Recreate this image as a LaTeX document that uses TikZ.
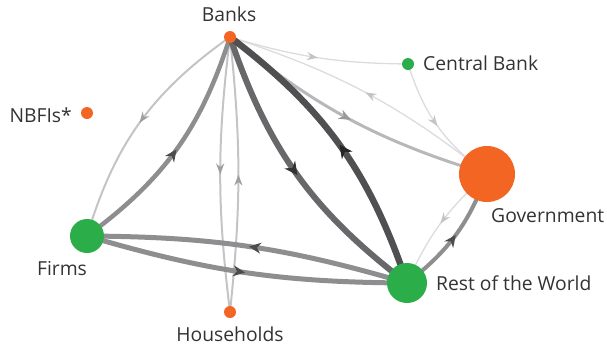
\documentclass[tikz,border=0pt]{standalone}
\usepackage{fontspec}
\setmainfont{Open Sans}
\usetikzlibrary{arrows.meta,decorations.markings,backgrounds,positioning}
\definecolor{sectororange}{HTML}{F26522}
\definecolor{sectorgreen}{HTML}{2BAE4A}
\definecolor{labeltext}{HTML}{333333}
\definecolor{flowfaint}{HTML}{DCDCDE}
\definecolor{flowlight}{HTML}{C4C4C6}
\definecolor{flowmid}{HTML}{B8B8BA}
\definecolor{flowgrey}{HTML}{8E8E91}
\definecolor{flowdark}{HTML}{68686B}
\definecolor{flowdarker}{HTML}{505053}
\tikzset{midarrow/.style 2 args={postaction={decorate},
  decoration={markings, mark=at position 0.5 with {\arrow[#1]{Stealth[#2]}}}}}
\tikzstyle{sector} = [circle, inner sep=0pt, draw=none]
\tikzstyle{lab} = [text=labeltext, font=\fontsize{19.3}{22}\selectfont, inner sep=0pt]
\tikzstyle{faint} = [line width=1.3pt, draw=flowfaint, midarrow={flowlight}{length=11pt, width=8pt}]
\tikzstyle{light} = [line width=2pt, draw=flowlight, midarrow={gray!75}{length=11pt, width=8pt}]
\tikzstyle{medium} = [line width=3pt, draw=flowmid, midarrow={gray!80}{length=12pt, width=10pt}]
\tikzstyle{heavy} = [line width=4.5pt, draw=flowgrey, midarrow={black!70}{length=12pt, width=11pt}]
\tikzstyle{heavier} = [line width=6pt, draw=flowdark, midarrow={black!80}{length=13pt, width=13pt}]
\tikzstyle{heaviest} = [line width=6.5pt, draw=flowdarker, midarrow={black!85}{length=13pt, width=13pt}]

\begin{document}
\begin{tikzpicture}[x=1pt, y=-1pt]
	\useasboundingbox (0,0) rectangle (607,349);
	% sectors
	\node [sector, fill=sectororange, minimum size=12pt] (banks) at (230, 37) {};
	\node [sector, fill=sectorgreen, minimum size=12pt] (cb) at (408, 64) {};
	\node [sector, fill=sectororange, minimum size=12pt] (nbfi) at (87, 113) {};
	\node [sector, fill=sectororange, minimum size=56pt] (gov) at (487, 174) {};
	\node [sector, fill=sectorgreen, minimum size=34pt] (firms) at (87, 236) {};
	\node [sector, fill=sectorgreen, minimum size=40pt] (rw) at (407, 283) {};
	\node [sector, fill=sectororange, minimum size=12pt] (hh) at (230, 312) {};
	% labels
	\node [lab, anchor=base] (banksl) at (229, 21) {Banks};
	\node [lab, anchor=base west] (cbl) at (423, 70) {Central Bank};
	\node [lab, anchor=base east] (nbfil) at (72, 122) {NBFIs*};
	\node [lab, anchor=base west] (govl) at (491, 222) {Government};
	\node [lab, anchor=base] (firmsl) at (62, 275) {Firms};
	\node [lab, anchor=base west] (rwl) at (436, 290) {Rest of the World};
	\node [lab, anchor=base] (hhl) at (230, 341) {Households};
	% flows
	\begin{pgfonlayer}{background}
		\draw [faint] (banks.center) to [bend right=8] (cb.center);
		\draw [faint] (cb.center) to [bend right=18] (gov.center);
		\draw [faint] (gov.center) to [bend right=10] (banks.center);
		\draw [faint] (gov.center) to [bend right=12] (rw.center);
		\draw [light] (banks.center) to [bend right=19] (firms.center);
		\draw [light] (banks.center) to [bend right=7] (hh.center);
		\draw [light] (hh.center) to [bend right=6] (banks.center);
		\draw [medium] (banks.center) to [bend right=11] (gov.center);
		\draw [heavy] (firms.center) to [bend right=18] (banks.center);
		\draw [heavy, line width=5pt] (firms.center) to [bend right=8] (rw.center);
		\draw [heavy, line width=5pt] (rw.center) to [bend right=8] (firms.center);
		\draw [heavy, line width=4pt] (rw.center) to [bend right=16] (gov.center);
		\draw [heavier] (banks.center) to [bend right=17] (rw.center);
		\draw [heaviest] (rw.center) to [bend right=17] (banks.center);
	\end{pgfonlayer}
\end{tikzpicture}
\end{document}
